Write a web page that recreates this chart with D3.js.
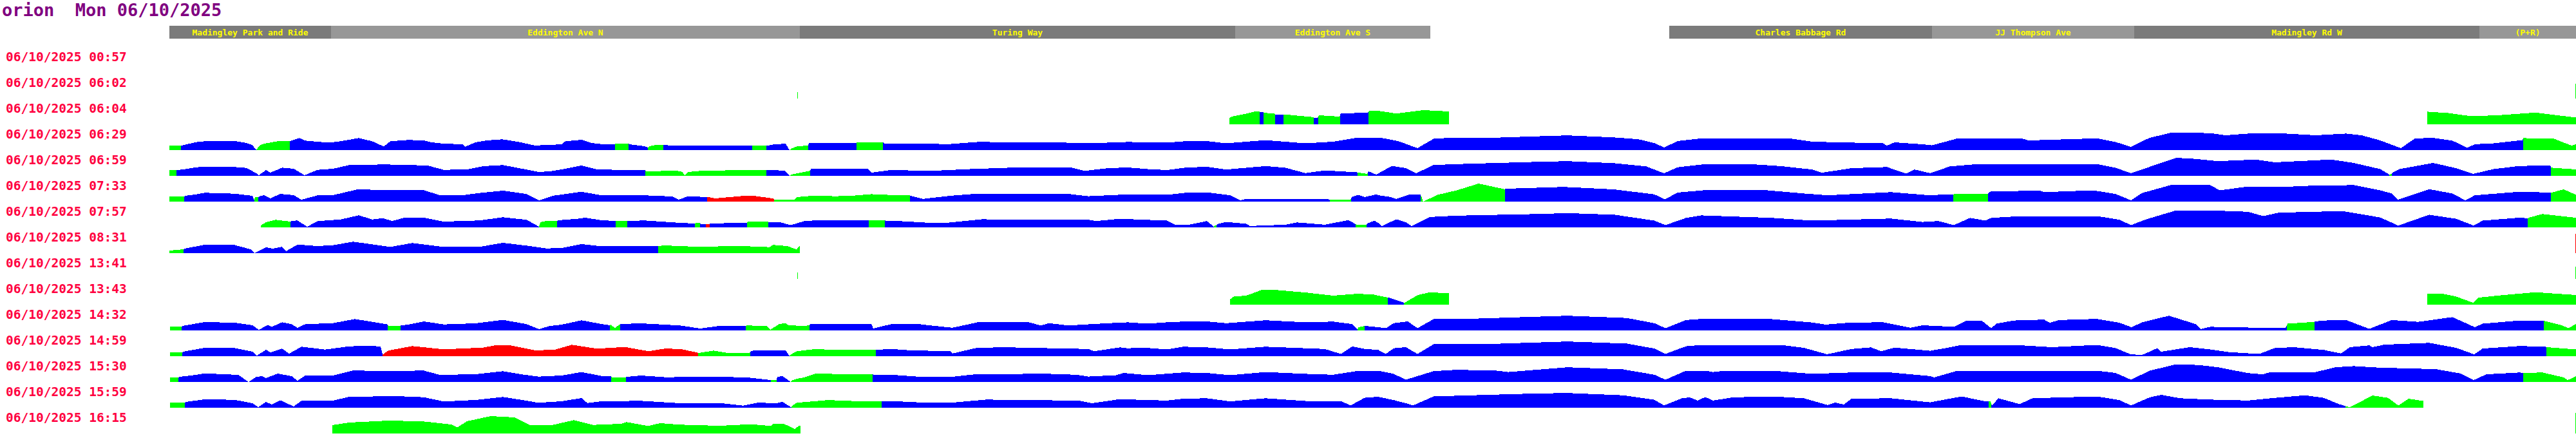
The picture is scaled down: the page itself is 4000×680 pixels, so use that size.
<!doctype html>
<html lang="en">
<head>
<meta charset="utf-8">
<title>orion Mon 06/10/2025</title>
<style>
  body { margin: 0; background: white; }
  svg { display: block; }
  text { font-family: "DejaVu Sans Mono", monospace; font-weight: bold; white-space: pre; }
  .trip { shape-rendering: crispEdges; }
</style>
</head>
<body>
<svg id="svg" width="4000" height="680"></svg>
<script src="https://cdn.jsdelivr.net/npm/d3@7"></script>
<script>
// route: distance along the route in metres
var routeLength = 3737;
var stopNames = ["Madingley Park and Ride", "Eddington Ave N", "Turing Way", "Eddington Ave S", "",
                 "Charles Babbage Rd", "JJ Thompson Ave", "Madingley Rd W", "(P+R)"];
var stopStart = [0, 251, 979, 1655, 1958, 2329, 2737, 3051, 3587];
var stopEnd   = [251, 979, 1655, 1958, 2329, 2737, 3051, 3587, 3737];

var tripLabels = ["06/10/2025 00:57", "06/10/2025 06:02", "06/10/2025 06:04", "06/10/2025 06:29",
  "06/10/2025 06:59", "06/10/2025 07:33", "06/10/2025 07:57", "06/10/2025 08:31",
  "06/10/2025 13:41", "06/10/2025 13:43", "06/10/2025 14:32", "06/10/2025 14:59",
  "06/10/2025 15:30", "06/10/2025 15:59", "06/10/2025 16:15"];

// [distance, speed]; null speed = no data
var t0057 = [];
var t0602 = [[975,10],[976,10],[977,null],[3736,23],[3737,23]];
var t0604 = [[1646,10],[1650,12],[1672,16.5],[1684,19.6],[1693,19.6],[1694,19.3],[1698,19.3],[1700,17.9],[1716,16.5],
  [1718,15.1],[1729,15.1],[1731,15.4],[1776,11.2],[1778,9.8],[1783,9.8],[1785,14],[1817,12],[1819,16.8],[1861,18.2],
  [1863,20.7],[1877,21],[1905,16.8],[1947,22],[1987,20],[1988,null],
  [3506,19.6],[3539,17.5],[3574,12.6],[3615,14],[3674,18.2],[3737,10.5]];
var t0629 = [[0,6.7],[18,6.7],[27,9],[44,12.7],[55,13.7],[104,13.7],[120,11],[129,7.7],[135,0],
  [140,7],[147,10],[168,13.7],[187,14],
  [202,18.7],[211,14.7],[230,13],[248,11.5],[266,13.7],[294,18.7],[315,13.7],[333,5.5],[343,13.7],[371,15.7],[395,15],
  [407,12],[426,10],[456,9],[459,5],[475,12],[493,15],[517,16.7],[542,12.7],[567,7.3],[585,7.7],[609,9],[615,13.7],
  [640,16],[655,11],[671,9.3],[692,9],[693,10.3],[713,10.3],[714,9],[738,6],[743,4],[746,6],[755,8],[767,8],
  [780,7],[810,6.5],[840,7.3],[870,6.5],[905,7],[915,7.3],[927,6.5],[940,9],[957,9.8],[963,0],[965,2],[975,6],[992,7],
  [993,11],[1067,11],[1068,12.3],[1108,12.3],[1110,10],[1182,10],[1207,9],[1255,12.6],[1304,12.3],[1366,12.3],
  [1427,10.5],[1488,12.6],[1549,11.6],[1580,14],[1611,14],[1641,10.5],[1702,15.4],[1764,10.5],[1807,13],[1843,19],
  [1880,19.3],[1908,14],[1938,3],[1963,17.5],[1981,18.6],[2061,19.3],[2134,21.7],[2171,22.8],[2244,19.6],[2281,16.8],
  [2306,10.9],[2321,4],[2342,14],[2379,18.2],[2520,17.5],[2551,13],[2612,11.6],[2661,10.5],[2667,7],[2679,12],
  [2722,9],[2737,7.4],[2777,18.2],[2876,18.2],[2887,15],[2993,18.2],[3022,12.6],[3046,4.9],[3063,13.7],[3075,19],
  [3110,27.4],[3169,26.3],[3193,23],[3228,25.6],[3286,25.6],[3333,23],[3380,25.6],[3404,23],[3433,15],[3465,3],
  [3486,17.5],[3512,19.3],[3545,14.7],[3568,3.5],[3580,9.1],[3609,10.5],[3650,15.1],[3654,15],
  [3655,18.6],[3703,17.5],[3730,7],[3737,9]];
var t0659 = [[0,8.7],[11,8.7],[27,10.7],[40,13],[50,14],[97,14],[120,12.3],[135,4],[139,1],[150,9],[157,5],[175,12.7],
  [193,11],[210,1],[230,9.3],[254,11],[279,16.7],[334,17.7],[377,16.7],[401,16],[426,9.3],[462,10],[487,15],[518,16.7],
  [548,11],[573,6],[591,7],[609,10],[640,16],[664,10],[695,9.3],[739,9.3],
  [740,7],[787,8],[797,6],[800,1],[806,6],[827,8],[877,8.7],[925,8.7],[928,8.7],[955,8.4],[963,0],[965,2],[995,8],
  [996,10.9],[1085,10.9],[1090,5],[1121,9.1],[1182,7.7],[1243,10.5],[1304,12.6],[1402,12.6],[1421,7.7],[1457,11.9],
  [1488,13],[1519,10.5],[1549,9],[1580,13],[1611,14],[1641,9.8],[1702,15.1],[1733,12.6],[1764,4.2],[1794,8.4],
  [1843,5.6],[1846,5],[1860,3],[1862,7],[1874,2],[1897,14.7],[1901,15],[1920,12],[1936,4],[1963,16.8],[1999,18.2],
  [2122,21.7],[2171,22.8],[2244,19.6],[2293,14.7],[2321,4],[2342,13.3],[2379,17.5],[2459,17.9],[2502,15.1],
  [2551,9.8],[2566,4.9],[2612,11.9],[2667,13.7],[2697,3.5],[2710,9.8],[2734,4.2],[2765,14.7],[2808,18.2],
  [2993,18.2],[3022,12.6],[3046,4],[3075,14],[3116,28],[3146,26.3],[3181,22.8],[3240,25.3],[3269,21],[3357,25.3],
  [3392,20],[3433,10.5],[3447,2],[3450,3],[3452,5],[3463,10.5],[3515,20],[3551,11.9],[3577,3],[3609,10.5],
  [3650,15.4],[3697,15.8],[3699,12.6],[3737,10]];
var t0733 = [[0,8],[23,8],[24,9],[40,11],[55,13.7],[101,12.3],[129,9],[132,2],[133,7],[138,7],
  [139,8],[147,10],[157,5],[172,12],[193,10],[205,3],[230,9.7],[254,10],[291,18.7],[395,17.7],[420,10],[456,10],
  [481,13.3],[518,17],[554,12],[574,2],[597,9.3],[640,15.3],[671,9.7],[732,10],[781,8],[791,3],[805,8.3],[835,7],
  [837,7],[847,5],[887,8.5],[907,9],[937,5],
  [940,3],[970,2.8],[974,7],[998,9],[1035,8.4],[1059,9],[1090,11.6],[1115,10.5],[1149,9.8],
  [1151,9],[1170,4.2],[1213,9.1],[1255,12.3],[1396,11.9],[1427,8.4],[1488,11.2],[1549,10.5],[1580,14],[1611,14.4],
  [1647,9.8],[1663,2],[1672,4.2],[1800,3.5],[1803,3.5],[1834,3.5],
  [1836,7],[1846,10.5],[1856,7],[1874,11.2],[1877,10],[1897,7],[1905,4.2],[1926,11.2],[1943,11],
  [1944,8],[1947,0],[1969,10.5],[1999,17.5],[2033,28],[2073,19.3],
  [2075,20],[2165,22.8],[2244,18.9],[2306,11.2],[2322,3.5],[2342,14],[2385,17.9],[2477,17.9],[2538,12.6],[2575,9.8],
  [2673,14.7],[2734,9.8],[2759,11.2],[2770,11],[2771,11.9],[2823,11.9],
  [2825,14],[2829,16.1],[2905,16.8],[2911,14.7],[2987,17.5],[3022,11.9],[3046,2],[3063,13.3],[3110,26.3],[3169,25.6],
  [3184,17.5],[3228,23.5],[3298,23.5],[3333,25],[3392,25.6],[3433,17.5],[3451,12.6],[3461,3],[3509,19.3],[3545,12.6],
  [3565,2],[3580,9.8],[3650,15.4],[3697,14],[3699,14],[3718,19],[3737,10.5]];
var t0757 = [[142,3],[150,8],[165,11.7],[188,9],
  [189,10],[199,10.7],[214,1],[230,9.7],[266,12.3],[294,18.7],[315,12.3],[331,14.3],[346,10],[364,14.7],[395,15],
  [426,9],[481,10.7],[518,15.7],[555,11.7],[574,1],[576,8],[585,10],[602,10],
  [603,11],[634,13.3],[646,15],[671,11],[693,10],[694,10.3],[711,10.3],[712,10],[738,10.7],[793,7],[816,6],
  [817,7],[823,7],[825,5],[832,5],[834,5],[838,5],[840,6],[870,6.7],[896,6.7],[898,9],[929,9],
  [931,8],[949,7.7],[965,3.5],[986,9.8],[1010,11.2],[1084,11.2],[1087,11.2],[1110,11.2],
  [1112,10.5],[1121,10.5],[1182,7],[1206,7],[1262,12.6],[1304,11.9],[1427,11.9],[1439,9.8],[1476,13.3],[1549,10.5],
  [1562,4.2],[1580,3.5],[1611,9.8],[1622,1],[1623,3],[1626,3],[1627,5],[1641,8.4],[1672,5.6],[1678,2.1],[1733,4.2],
  [1751,7.7],[1794,4.2],[1831,11.2],[1842,5],[1843,4],[1858,4],
  [1860,6],[1871,10.5],[1877,7],[1883,2],[1905,12.6],[1920,8],[1929,2],[1957,16.1],[1999,18.2],[2122,20.7],
  [2171,22.1],[2244,19.6],[2306,10.5],[2323,3.5],[2355,14.7],[2379,18.6],[2489,14.7],[2551,10.5],[2673,13.7],
  [2722,8.4],[2747,9.8],[2771,3.5],[2796,14.7],[2820,10.5],[2829,14.7],[2876,17.5],[2993,17.5],[3028,11.9],
  [3046,3.5],[3069,12.3],[3116,26.3],[3169,26.3],[3228,24.2],[3251,17.5],[3275,22.8],[3374,25.3],[3433,15.4],
  [3461,2.8],[3509,19.6],[3551,13.3],[3578,2.8],[3592,10.5],[3650,15.1],[3662,14],
  [3663,15],[3685,20.7],[3737,15]];
var t0831 = [[0,4],[22,6],
  [23,7],[55,13],[101,12.7],[126,6],[132,0],[150,9],[161,7],[175,10],[181,3],[199,13.3],[230,11],[254,12.3],
  [285,17.7],[315,13.7],[343,9.7],[377,15.7],[426,9.7],[481,9.7],[518,16],[560,11],[585,7.3],[609,8],[640,14],
  [671,10.7],[758,10.7],
  [760,11],[767,12],[817,10],[887,11],[917,10],[932,9.3],[937,12.6],[947,12.3],[961,10.5],[974,5.6],[979,12],
  [980,null],[3736,30],[3737,30]];
var t1341 = [[975,10],[976,10],[977,null],[3736,19],[3737,19]];
var t1343 = [[1647,8.4],[1653,12.6],[1672,14],[1696,22.8],[1715,23.1],[1764,18.9],[1807,14],[1843,16.8],[1868,16.1],
  [1877,14],[1892,11],[1893,11],[1917,3],[1918,3],[1938,14.7],[1957,19.3],[1987,17.5],[1988,null],
  [3506,17.5],[3530,17],[3551,12.6],[3577,3],[3586,11],[3620,14.5],[3674,19.3],[3737,15]];
var t1432 = [[1,6],[19,6],
  [20,7],[55,13],[101,12],[129,8],[139,1],[153,8.7],[159,5.5],[175,12.7],[190,9.7],[199,4],[211,9.7],[254,11.3],
  [288,17.7],[315,13.3],[339,9.3],[340,7],[358,7],
  [360,8],[371,9],[395,14],[426,9.3],[475,11],[518,16.3],[554,10],[574,2],[591,7],[609,9],[640,15.7],[671,10],[684,8],
  [685,9],[692,4],[699,9],
  [701,10],[732,11],[793,7.7],[824,3],[854,7],[895,7],
  [896,7.7],[927,7],[933,1],[947,10],[957,11.2],[961,8.4],[980,7],[994,7.7],
  [995,10.5],[1090,10.5],[1093,3],[1121,9.8],[1164,9.8],[1182,7.7],[1216,4.2],[1255,12.6],[1335,12.6],[1353,7.7],
  [1366,11.2],[1396,7.7],[1457,11.2],[1488,12.6],[1519,10.5],[1549,12.6],[1580,14],[1611,14],[1641,11.2],[1702,15.8],
  [1764,12.6],[1807,13.7],[1837,9.8],[1845,1],[1846,5],[1856,7],
  [1857,7],[1877,5],[1889,3.5],[1901,11.2],[1923,14],[1938,3.5],[1963,17.5],[2024,18.2],[2171,22.8],[2263,19.3],
  [2306,11.2],[2323,3.5],[2355,16.1],[2379,17.9],[2489,17.5],[2551,12.3],[2572,9.1],[2612,12.3],[2661,12.6],
  [2704,4.2],[2722,8],[2771,5.6],[2789,14.7],[2814,15.4],[2829,3.5],[2837,10.5],[2864,15.4],[2911,16.8],[2920,11.9],
  [2934,16.1],[2993,17.9],[3028,11.9],[3047,4.9],[3063,12.6],[3105,22.8],[3146,10],[3154,2],[3169,5.6],[3228,4.5],
  [3286,4.2],[3289,10.5],[3331,13.3],
  [3332,14],[3345,15.4],[3380,16.1],[3416,2.5],[3451,16.1],[3492,13.3],[3545,20.7],[3580,5],[3592,10.5],[3650,15.4],
  [3686,14.7],[3688,14.7],[3715,8],[3725,3.5],[3737,10]];
var t1459 = [[1,6],[20,6],
  [21,7],[55,13],[101,12.7],[129,7],[136,1],[150,10],[157,6],[175,11.7],[186,4],[205,14.7],[242,10.3],[279,15.3],
  [303,16],[328,15.3],[331,3],
  [332,3],[340,8.7],[377,15.7],[426,10.7],[487,13.3],[505,16.7],[530,16.7],[567,9.3],[597,9.7],[625,17.7],[664,11.7],
  [707,14.3],[744,7.7],[769,11.7],[793,11.3],[818,6],
  [822,5],[845,8.7],[867,5],[900,5],
  [903,8],[909,9],[957,9.1],[963,0],
  [964,2],[974,7.7],[1004,11.2],[1029,9.8],[1096,9.8],
  [1098,10],[1121,11.2],[1151,9.1],[1213,7.7],[1216,4.2],[1255,13.3],[1304,13.7],[1427,11.2],[1436,7.7],[1476,13.7],
  [1488,12.3],[1513,13.3],[1549,10.5],[1574,14.7],[1611,13.7],[1647,10.5],[1702,14.7],[1794,11.2],[1819,3.5],
  [1837,15.1],[1856,11.2],[1877,9.8],[1889,3.5],[1901,12.3],[1920,14],[1938,3.5],[1963,18.6],[2061,19.3],
  [2171,22.8],[2263,19.6],[2306,11.9],[2323,3.5],[2355,15.4],[2379,17.5],[2428,16.5],[2502,17.5],[2538,13],
  [2574,3],[2612,11.2],[2642,13.7],[2658,7.7],[2679,13.3],[2734,8.4],[2759,12.6],[2783,17.5],[2864,17.5],
  [2923,14],[2993,17.5],[3022,12.6],[3046,2.8],[3063,2],[3075,7],[3087,12.6],[3093,7],[3137,14],[3169,10.5],
  [3198,6.3],[3245,3.5],[3269,12.6],[3298,14],[3345,9.8],[3372,4.2],[3386,14],[3416,16.8],[3421,14],[3439,17.9],
  [3509,20.7],[3551,13],[3579,2.8],[3592,11.9],[3650,15.8],[3690,14.7],
  [3691,14],[3737,10.5]];
var t1530 = [[1,7],[14,7],
  [15,8],[34,10],[55,13.3],[107,11],[123,0],[135,8],[144,9],[150,6],[168,13],[190,9],[199,2],[211,10],[254,10],
  [285,17.7],[346,17],[395,17.7],[420,11],[475,12],[518,16.7],[548,11.7],[573,8.3],[609,10],[640,15.3],[671,9.3],
  [686,9],[687,7.3],[708,7.3],
  [710,8],[732,10],[775,7],[793,8],[854,8],[897,7],[934,3],[935,3],[943,3],
  [944,8],[952,9.1],[965,0],
  [966,2],[974,4.9],[986,7],[1004,13.3],[1047,11.9],[1091,11.9],
  [1093,11.5],[1121,11.2],[1170,7.7],[1213,7.7],[1255,12.3],[1366,12.6],[1408,11.2],[1427,8.4],[1470,10.5],
  [1482,14],[1519,10.5],[1574,14.7],[1611,14],[1647,10.5],[1702,15.4],[1764,12.6],[1807,11.2],[1843,16.8],
  [1868,17.5],[1877,17.5],[1901,12.6],[1920,3.5],[1963,16.8],[1999,18.9],[2061,17.5],[2079,15.4],[2171,22.8],
  [2257,19.6],[2306,11.2],[2323,3.5],[2355,17.5],[2385,17.5],[2397,15.4],[2416,17.5],[2489,17.5],[2551,12.6],
  [2612,14.7],[2673,14.7],[2734,9.1],[2740,7],[2777,17.5],[2993,17.5],[3022,14],[3046,3.5],[3075,17.5],[3116,27.4],
  [3151,26.3],[3181,22.8],[3228,13.7],[3251,11.9],[3263,15.4],[3333,15.4],[3363,22.8],[3392,24.6],[3433,22.1],
  [3492,20.7],[3521,19.6],[3557,13.3],[3578,2.8],[3598,11.9],[3650,14.7],[3654,14],
  [3655,14],[3685,14.7],[3718,7],[3724,2.8],[3737,9]];
var t1559 = [[1,8],[24,8],
  [25,9],[55,13],[101,12.3],[129,7],[138,1],[150,9],[159,5],[172,11.7],[193,2],[205,10.7],[254,11],[279,17],
  [352,18],[395,16.3],[426,9.7],[475,12],[518,16.7],[554,11],[573,7.7],[609,10],[640,15],[649,7.3],[671,10],
  [732,10.7],[793,7],[854,7.3],[891,3.3],[915,8],[937,7],[943,7],[952,9.1],[965,1],
  [966,2],[974,7.7],[1023,11.9],[1059,10.5],[1105,10.5],
  [1107,10],[1133,9.8],[1176,7.7],[1213,7.7],[1268,12.6],[1366,11.6],[1415,10.5],[1433,7],[1476,13.3],[1519,11.9],
  [1549,11.2],[1574,14],[1611,14.7],[1647,9.8],[1702,14.7],[1764,10.5],[1819,10.5],[1834,3.5],[1856,15.4],
  [1877,17],[1901,11.9],[1920,7],[1931,3.5],[1963,17.5],[1999,18.6],[2122,22.1],[2171,22.8],[2257,19.3],
  [2306,12.3],[2321,3.5],[2349,14.7],[2361,16.1],[2373,11.2],[2385,16.5],[2397,11.2],[2428,16.1],[2489,17.5],
  [2538,14.7],[2575,4.2],[2587,8],[2600,5],[2612,14],[2673,14.7],[2734,8.4],[2783,17.5],[2820,9.8],[2825,10],
  [2826,10],[2828,10],
  [2830,3],[2840,14.7],[2873,5.6],[2893,14.7],[2993,17.5],[3028,11.9],[3046,3.5],[3075,16.1],[3093,20],[3122,14.7],
  [3169,12.6],[3228,11.2],[3263,14.7],[3316,19.3],[3345,15.4],[3369,5.6],[3378,3],
  [3379,2],[3386,1],[3421,18.9],[3445,15.4],[3461,3.5],[3477,14],[3500,10.5]];
var t1615 = [[253,13],[279,17],[334,19.7],[389,19.3],[438,14],[447,9.3],[462,19],[499,27],[536,25],[560,13],
  [594,13],[628,20.7],[658,13.3],[701,15],[710,17.7],[743,11.7],[762,16],[793,13.7],[854,12],[903,14.3],
  [934,11.7],[937,14.7],[955,14.7],[971,7],[978,12.3],[980,12.3],[981,null],[3736,32],[3737,32]];

// status runs: [status, from, to]
var s0057 = [];
var s0602 = [["g",975,977],["g",3736,3737]];
var s0604 = [["g",1646,1693],["b",1693,1699],["g",1699,1717],["b",1717,1730],["g",1730,1777],["b",1777,1784],
  ["g",1784,1818],["b",1818,1862],["g",1862,3737]];
var s0629 = [["g",0,18],["b",18,135],["g",135,187],["b",187,692],["g",692,713],["b",713,743],["g",743,767],
  ["b",767,905],["g",905,927],["b",927,963],["g",963,992],["b",992,1067],["g",1067,1108],["b",1108,3655],["g",3655,3737]];
var s0659 = [["g",0,11],["b",11,739],["g",739,927],["b",927,963],["g",963,995],["b",995,1845],["g",1845,1861],
  ["b",1861,3447],["g",3447,3451],["b",3451,3698],["g",3698,3737]];
var s0733 = [["g",0,23],["b",23,132],["g",132,138],["b",138,835],["r",835,939],["g",939,1150],["b",1150,1802],
  ["g",1802,1835],["b",1835,1943],["g",1943,2074],["b",2074,2770],["g",2770,2824],["b",2824,3698],["g",3698,3737]];
var s0757 = [["g",142,188],["b",188,574],["g",574,602],["b",602,693],["g",693,711],["b",711,816],["g",816,824],
  ["b",824,833],["r",833,839],["b",839,897],["g",897,930],["b",930,1086],["g",1086,1111],["b",1111,1622],
  ["g",1622,1626],["b",1626,1842],["g",1842,1859],["b",1859,3662],["g",3662,3737]];
var s0831 = [["g",0,22],["b",22,759],["g",759,981],["r",3736,3737]];
var s1341 = [["g",975,977],["g",3736,3737]];
var s1343 = [["g",1647,1892],["b",1892,1917],["g",1917,3737]];
var s1432 = [["g",0,19],["b",19,339],["g",339,359],["b",359,684],["g",684,700],["b",700,895],["g",895,994],
  ["b",994,1845],["g",1845,1856],["b",1856,3288],["g",3288,3331],["b",3331,3687],["g",3687,3737]];
var s1459 = [["g",0,20],["b",20,331],["r",331,821],["g",821,902],["b",902,963],["g",963,1097],["b",1097,3691],
  ["g",3691,3737]];
var s1530 = [["g",0,14],["b",14,686],["g",686,709],["b",709,934],["g",934,943],["b",943,965],["g",965,1092],
  ["b",1092,3655],["g",3655,3737]];
var s1559 = [["g",0,24],["b",24,966],["g",966,1106],["b",1106,2825],["g",2825,2829],["b",2829,3379],["g",3379,3501]];
var s1615 = [["g",253,3737]];

var trips = [t0057, t0602, t0604, t0629, t0659, t0733, t0757, t0831, t1341, t1343, t1432, t1459, t1530, t1559, t1615];
var runs  = [s0057, s0602, s0604, s0629, s0659, s0733, s0757, s0831, s1341, s1343, s1432, s1459, s1530, s1559, s1615];
var statusColor = { g: "#00ff00", b: "#0000ff", r: "#ff0000" };

var svg = d3.select("#svg");
var defs = svg.append("defs");

var x = d3.scaleLinear().domain([0, routeLength]).range([263, 4000]);
var rowBase = d3.scalePoint().domain(tripLabels).range([113, 673]);
var speed = d3.scaleLinear().domain([0, 30]).range([0, 30]);

// title
svg.append("text")
  .attr("x", 3).attr("y", 25)
  .attr("fill", "#800080")
  .attr("font-size", 27)
  .text("orion  Mon 06/10/2025");

// route header, named sections alternate dark / light
var head = svg.append("g");
var shade = 0;
stopNames.forEach(function(name, i) {
  if (name === "") return;
  head.append("rect")
    .attr("x", x(stopStart[i])).attr("y", 40)
    .attr("width", x(stopEnd[i]) - x(stopStart[i])).attr("height", 20)
    .attr("fill", shade % 2 === 0 ? "#7b7b7b" : "#979797");
  head.append("text")
    .attr("x", (x(stopStart[i]) + x(stopEnd[i])) / 2).attr("y", 55)
    .attr("text-anchor", "middle")
    .attr("fill", "#ffff00")
    .attr("font-size", 13)
    .text(name);
  shade++;
});

// trip labels
svg.append("g").selectAll("text")
  .data(tripLabels).enter().append("text")
  .attr("x", 9)
  .attr("y", function(d) { return rowBase(d) - 18; })
  .attr("fill", "#ff0040")
  .attr("font-size", 19.5)
  .text(function(d) { return d; });

// speed profiles
trips.forEach(function(pts, i) {
  if (!pts.length) return;
  var base = rowBase(tripLabels[i]);
  var grad = defs.append("linearGradient")
    .attr("id", "run" + i)
    .attr("gradientUnits", "userSpaceOnUse")
    .attr("x1", x(0)).attr("x2", x(routeLength))
    .attr("y1", 0).attr("y2", 0);
  runs[i].forEach(function(r) {
    grad.append("stop").attr("offset", r[1] / routeLength).attr("stop-color", statusColor[r[0]]);
    grad.append("stop").attr("offset", r[2] / routeLength).attr("stop-color", statusColor[r[0]]);
  });

  var area = d3.area()
    .defined(function(d) { return d[1] !== null; })
    .x(function(d) { return x(d[0]); })
    .y0(base)
    .y1(function(d) { return base - speed(d[1]); });

  svg.append("path")
    .attr("class", "trip")
    .attr("fill", "url(#run" + i + ")")
    .attr("d", area(pts));
});
</script>
</body>
</html>
